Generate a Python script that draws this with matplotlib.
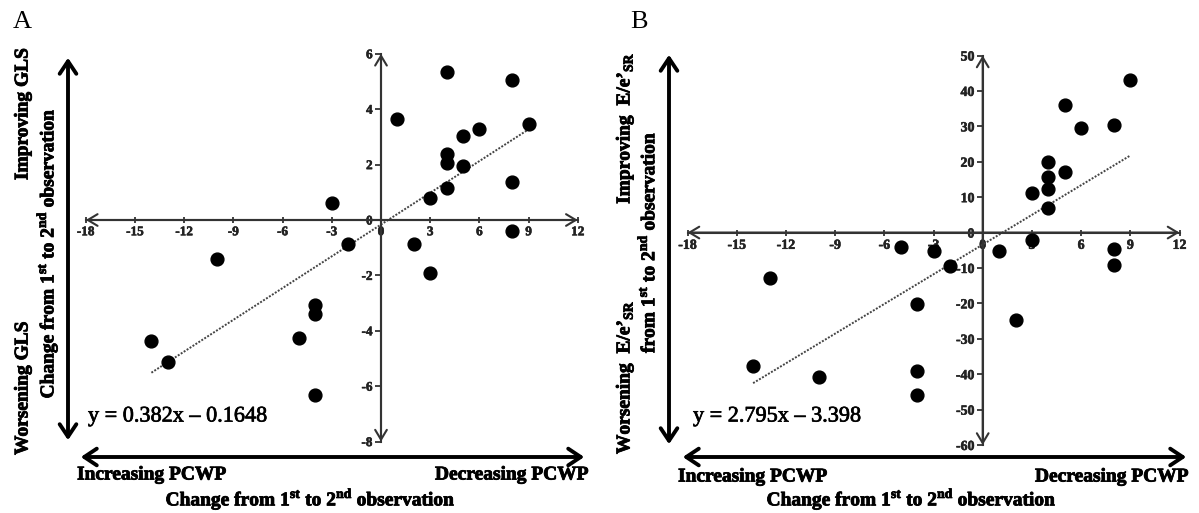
import numpy as np
import matplotlib
matplotlib.use('Agg')
import matplotlib.pyplot as plt
import matplotlib.patheffects as pe

plt.rcParams['font.family'] = 'Liberation Serif'
plt.rcParams['mathtext.fontset'] = 'custom'
plt.rcParams['mathtext.rm'] = 'Liberation Serif:bold'
plt.rcParams['mathtext.bf'] = 'Liberation Serif:bold'

# ---------------------------- data ----------------------------
# change in PCWP (x) is the same set of patients in both panels
x_gls = [4, 8, 1, 9, 6, 5, 4, 4, 5, 4, 8, 3, -3, 8, 2, -2, -10, 3, -4, -4, -5, -14, -13, -4]
y_gls = [5.34, 5.04, 3.65, 3.47, 3.29, 3.02, 2.38, 2.06, 1.96, 1.16, 1.38, 0.78, 0.60,
         -0.38, -0.88, -0.88, -1.42, -1.92, -3.06, -3.40, -4.25, -4.38, -5.12, -6.30]

x_ee = [9, 5, 8, 6, 4, 5, 4, 4, 3, 4, 3, -5, -3, 1, 8, 8, -2, -13, -4, 2, -14, -10, -4, -4]
y_ee = [43.1, 36.0, 30.4, 29.4, 19.8, 17.2, 15.8, 12.2, 11.2, 6.9, -2.0, -4.0, -5.3, -5.1,
        -4.7, -9.1, -9.4, -12.9, -20.1, -24.6, -37.8, -40.7, -39.2, -45.9]

# regression lines printed on the chart
slope_gls, icpt_gls = 0.382, -0.1648
slope_ee, icpt_ee = 2.795, -3.398

xticks = [-18, -15, -12, -9, -6, -3, 0, 3, 6, 9, 12]
yticks_gls = [-8, -6, -4, -2, 0, 2, 4, 6]
yticks_ee = [-60, -50, -40, -30, -20, -10, 0, 10, 20, 30, 40, 50]

W, H = 1199, 513
figure = plt.figure(figsize=(W / 100, H / 100), dpi=100)

heavy = [pe.withStroke(linewidth=0.6, foreground='black')]


def fx(px):
    return px / W


def fy(py):
    return 1 - py / H


def make_axis(left, right, top, bottom, xlim, ylim, yticks, fs):
    ax = figure.add_axes([fx(left), fy(bottom), fx(right) - fx(left), fy(top) - fy(bottom)])
    ax.set_xlim(xlim)
    ax.set_ylim(ylim)
    for s in ['top', 'right']:
        ax.spines[s].set_visible(False)
    for s in ['left', 'bottom']:
        ax.spines[s].set_position(('data', 0))
        ax.spines[s].set_color('#333333')
        ax.spines[s].set_linewidth(1.5)
    ax.set_xticks(xticks)
    ax.set_yticks(yticks)
    ax.set_xticklabels([str(t) for t in xticks], fontsize=fs, fontweight='bold')
    ax.set_yticklabels([str(t) for t in yticks], fontsize=fs, fontweight='bold')
    for lab in ax.get_xticklabels() + ax.get_yticklabels():
        lab.set_color('#222222')
        lab.set_path_effects([pe.withStroke(linewidth=0.4, foreground='#222222')])
    ax.tick_params(axis='x', direction='inout', length=5, width=1.3, color='#333333', pad=2)
    ax.tick_params(axis='y', direction='out', length=4, width=1.3, color='#333333', pad=2)
    ax.patch.set_visible(False)
    arr = dict(arrowstyle='<->,head_length=0.5,head_width=0.3', lw=1.5, color='#333333',
               shrinkA=0, shrinkB=0, mutation_scale=14)
    ax.annotate('', xy=(xlim[1], 0), xytext=(xlim[0], 0), arrowprops=arr, annotation_clip=False)
    ax.annotate('', xy=(0, ylim[1]), xytext=(0, ylim[0]), arrowprops=arr, annotation_clip=False)
    return ax


def big_arrow(x0, y0, x1, y1):
    figure.add_artist(matplotlib.patches.FancyArrowPatch(
        (fx(x0), fy(y0)), (fx(x1), fy(y1)), transform=figure.transFigure,
        arrowstyle='<->,head_length=0.45,head_width=0.3', mutation_scale=20,
        lw=2.8, color='black'))


def ftext(px, py, s, **kw):
    figure.text(fx(px), fy(py), s, **kw)


bold = dict(fontsize=14, fontweight='bold', path_effects=heavy)
sup = r"Change from 1$^{\mathrm{st}}$ to 2$^{\mathrm{nd}}$ observation"

# ----------------------------- panel A -----------------------------
axA = make_axis(85.8, 577.8, 53.8, 441.6, (-18, 12), (-8, 6), yticks_gls, 9.5)
axA.scatter(x_gls, y_gls, s=85, color='black', zorder=5, clip_on=False)
xl = np.array([min(x_gls), max(x_gls)])
axA.plot(xl, slope_gls * xl + icpt_gls, color='#444444', lw=1.4, linestyle=(0, (1, 0.8)))

ftext(13, 22, 'A', fontsize=19, va='center', ha='left')
big_arrow(68, 443, 68, 55)
big_arrow(78, 457, 587, 457)
ftext(23, 114, 'Improving GLS', rotation=90, ha='center', va='center', **bold)
ftext(23, 388, 'Worsening GLS', rotation=90, ha='center', va='center', **bold)
ftext(47, 253, sup, rotation=90, ha='center', va='center', **bold)
ftext(88, 417, 'y = 0.382x \u2013 0.1648', fontsize=16, ha='left', va='center',
      path_effects=[pe.withStroke(linewidth=0.5, foreground='black')])
ftext(77, 475, 'Increasing PCWP', ha='left', va='center', **bold)
ftext(589, 475, 'Decreasing PCWP', ha='right', va='center', **bold)
ftext(311, 499, sup, ha='center', va='center', **bold)

# ----------------------------- panel B -----------------------------
axB = make_axis(687.5, 1179.5, 55.5, 445, (-18, 12), (-60, 50), yticks_ee, 10)
axB.scatter(x_ee, y_ee, s=85, color='black', zorder=5, clip_on=False)
xl = np.array([min(x_ee), max(x_ee)])
axB.plot(xl, slope_ee * xl + icpt_ee, color='#444444', lw=1.4, linestyle=(0, (1, 0.8)))

ftext(630, 22, 'B', fontsize=19, va='center', ha='left')
big_arrow(669, 447, 669, 52)
big_arrow(680, 457, 1189, 457)
ftext(625, 128, "Improving  E/e\u2019$_{\\mathrm{SR}}$", rotation=90, ha='center', va='center', **bold)
ftext(625, 377, "Worsening  E/e\u2019$_{\\mathrm{SR}}$", rotation=90, ha='center', va='center', **bold)
ftext(647, 242, r"from 1$^{\mathrm{st}}$ to 2$^{\mathrm{nd}}$ observation", rotation=90,
      ha='center', va='center', **bold)
ftext(693, 417, 'y = 2.795x \u2013 3.398', fontsize=16, ha='left', va='center',
      path_effects=[pe.withStroke(linewidth=0.5, foreground='black')])
ftext(678, 477, 'Increasing PCWP', ha='left', va='center', **bold)
ftext(1189, 477, 'Decreasing PCWP', ha='right', va='center', **bold)
ftext(912, 499, sup, ha='center', va='center', **bold)

plt.savefig('out.png', dpi=100)
print('successfully plot')
